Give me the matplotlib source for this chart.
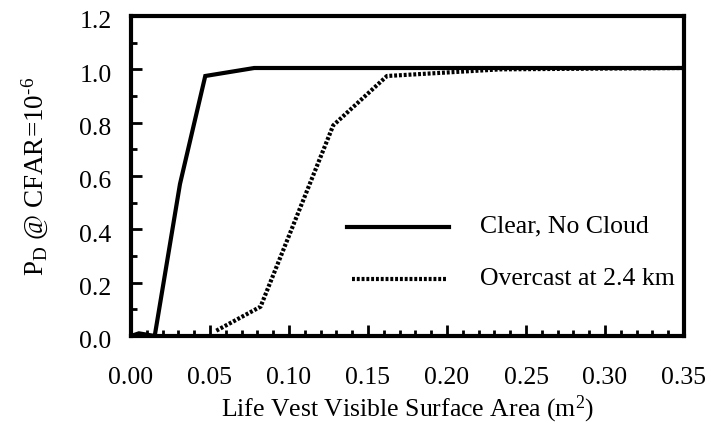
import numpy as np
import matplotlib
matplotlib.use("Agg")
import matplotlib.pyplot as plt
import matplotlib.transforms as mtransforms
from matplotlib.ticker import MultipleLocator

plt.rcParams['font.family'] = ['Liberation Serif', 'DejaVu Serif']
plt.rcParams['mathtext.fontset'] = 'custom'
plt.rcParams['mathtext.rm'] = 'Liberation Serif'
plt.rcParams['mathtext.it'] = 'Liberation Serif:italic'

# data
clear_x = [0.0, 0.005, 0.015, 0.031, 0.047, 0.078, 0.35]
clear_y = [0.0, 0.01, 0.0, 0.57, 0.975, 1.005, 1.005]
over_x = [0.054, 0.082, 0.128, 0.162, 0.234, 0.35]
over_y = [0.02, 0.11, 0.79, 0.975, 1.0, 1.005]

fs = 18.5
dots = (0, (0.7, 0.45))

fig = plt.figure(figsize=(7.11, 4.24), dpi=100)
ax = fig.add_axes([131/711, 1-336/424, 553/711, 320/424])

ax.plot(clear_x, clear_y, color='black', lw=3, solid_joinstyle='miter')
ax.plot(over_x, over_y, color='black', lw=3, linestyle=dots, dash_capstyle='butt')

# legend drawn by hand inside the axes
ax.plot([0.137, 0.201], [0.41, 0.41], color='black', lw=3)
ax.text(0.221, 0.41, 'Clear, No Cloud', fontsize=fs, va='center')
ax.plot([0.140, 0.200], [0.215, 0.215], color='black', lw=3, linestyle=dots, dash_capstyle='butt')
ax.text(0.221, 0.215, 'Overcast at 2.4 km', fontsize=fs, va='center')

ax.set_xlim(0, 0.35)
ax.set_ylim(0, 1.2)
ax.xaxis.set_major_locator(MultipleLocator(0.05))
ax.xaxis.set_minor_locator(MultipleLocator(0.01))
ax.yaxis.set_major_locator(MultipleLocator(0.2))
ax.yaxis.set_minor_locator(MultipleLocator(0.1))
ax.xaxis.set_major_formatter(plt.FuncFormatter(lambda v, p: '%.2f' % v))
ax.yaxis.set_major_formatter(plt.FuncFormatter(lambda v, p: '%.1f' % v))
ax.tick_params(which='both', direction='in', width=2, labelsize=fs)
ax.tick_params(axis='x', pad=22)
ax.tick_params(axis='y', pad=14)
ax.tick_params(which='major', length=8)
ax.tick_params(which='minor', length=4)
for s in ax.spines.values():
    s.set_linewidth(3)

# y tick labels sit a little low in the original
shift = mtransforms.ScaledTranslation(0, -4/100, fig.dpi_scale_trans)
for lab in ax.get_yticklabels():
    lab.set_transform(lab.get_transform() + shift)

ax.set_xlabel('Life Vest Visible Surface Area (m$^2$)', fontsize=fs, labelpad=4)
ax.set_ylabel('P$_\\mathrm{D}$ @ CFAR=10$^{\u20106}$', fontsize=19.5, labelpad=21)

fig.savefig('out.png', dpi=100)
